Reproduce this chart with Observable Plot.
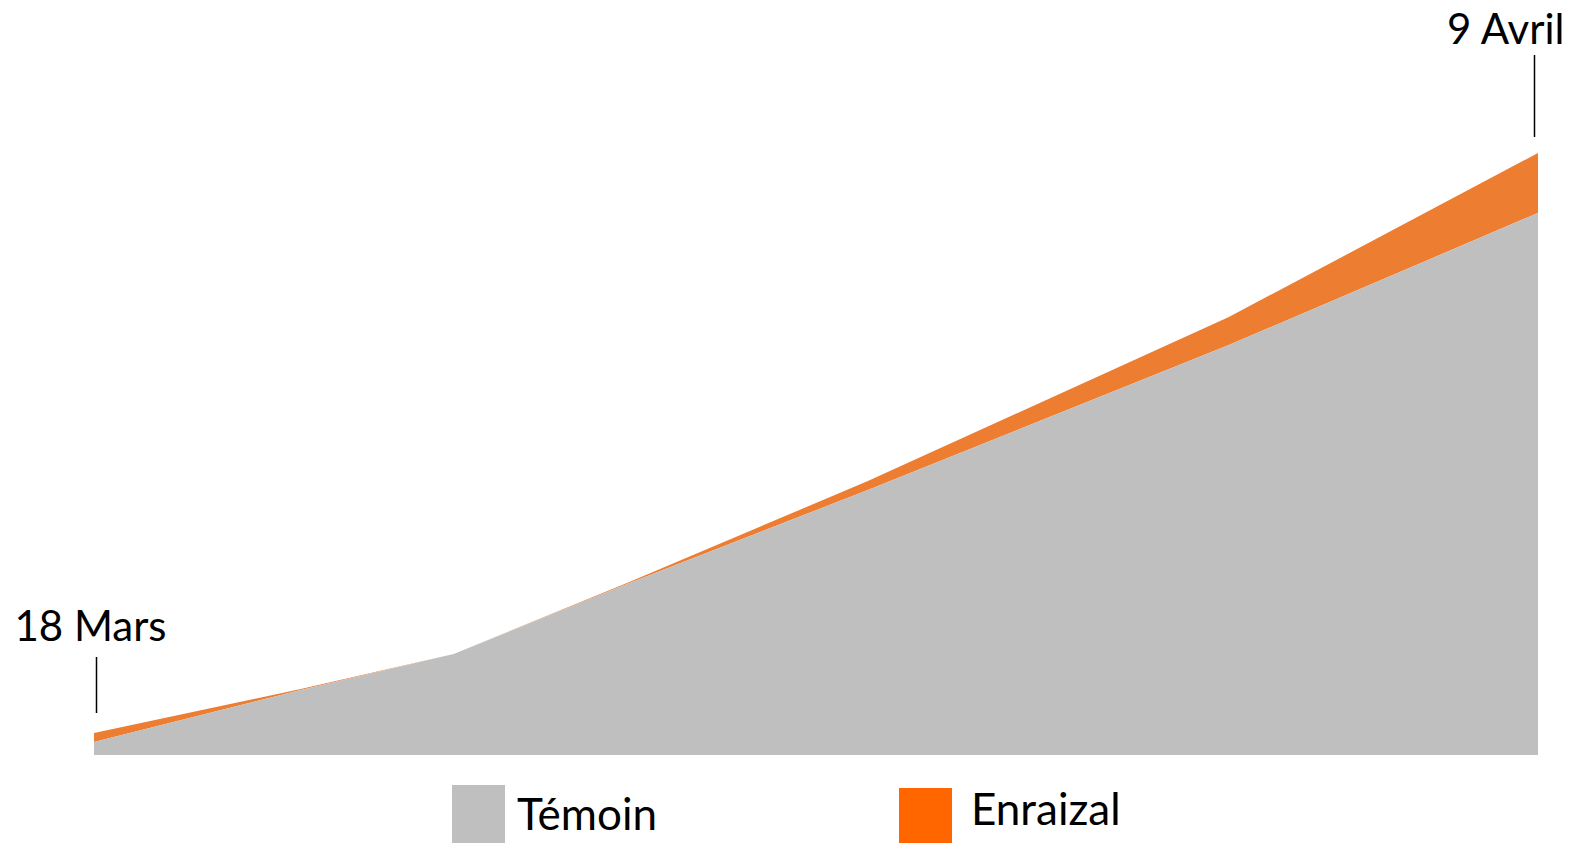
<!DOCTYPE html>
<html>
<head>
<meta charset="utf-8">
<script src="https://cdn.jsdelivr.net/npm/d3@7"></script>
<script src="https://cdn.jsdelivr.net/npm/@observablehq/plot@0.6"></script>
<style>
  html, body { margin: 0; padding: 0; background: #fff; overflow: hidden; }
  #wrap { width: 1573px; height: 843px; position: relative; font-family: Lato, "Open Sans", sans-serif; overflow: hidden; }
  #legend { position: relative; width: 1573px; height: 58px; }
  .sw { position: absolute; width: 53px; height: 58px; }
  .lbl { position: absolute; font-size: 44px; line-height: 44px; color: #000; white-space: nowrap; }
</style>
</head>
<body>
<div id="wrap"></div>
<script>
// Days since 18 March
const days = [0, 3.15, 5.48, 8.12, 11.79, 17.29, 22];
// Témoin (grey area) values
const temoin = [13, 65, 101, 171, 265, 410, 542];
// Enraizal (top of orange band) values
const enraizal = [22, 66, 101, 172, 274, 438, 602];
// Series labels and colours
const seriesNames = ["Témoin", "Enraizal"];
const seriesColors = ["#BFBFBF", "#ED7D31"];
const legendColors = ["#BFBFBF", "#FF6600"];
// Date labels
const startLabel = "18 Mars";
const endLabel = "9 Avril";

const data = days.map((d, i) => ({day: d, temoin: temoin[i], enraizal: enraizal[i]}));
const first = [data[0]];
const last = [data[data.length - 1]];

const chart = Plot.plot({
  width: 1573,
  height: 785,
  marginTop: 153,
  marginBottom: 30,
  marginLeft: 94,
  marginRight: 35,
  style: {fontFamily: "Lato, 'Open Sans', sans-serif", background: "#fff"},
  x: {domain: [0, 22], axis: null},
  y: {domain: [0, 602], axis: null},
  marks: [
    Plot.areaY(data, {x: "day", y1: "temoin", y2: "enraizal", fill: seriesColors[1], curve: "linear"}),
    Plot.areaY(data, {x: "day", y: "temoin", fill: seriesColors[0], curve: "linear"}),
    Plot.ruleX(first, {x: "day", y1: d => d.enraizal + 20, y2: d => d.enraizal + 76, stroke: "#000", strokeWidth: 1.5, dx: 2}),
    Plot.ruleX(last, {x: "day", y1: d => d.enraizal + 16, y2: d => d.enraizal + 98, stroke: "#000", strokeWidth: 1.5, dx: -4}),
    Plot.text(first, {x: "day", y: d => d.enraizal + 106, text: () => startLabel, fontSize: 42, fill: "#000", textAnchor: "middle", dx: -4}),
    Plot.text(last, {x: "day", y: d => d.enraizal + 123, text: () => endLabel, fontSize: 42, fill: "#000", textAnchor: "end", dx: 26})
  ]
});

const wrap = document.getElementById("wrap");
wrap.appendChild(chart);

const legend = document.createElement("div");
legend.id = "legend";
const items = [
  {name: seriesNames[0], color: legendColors[0], swLeft: 452, swTop: 0, lblLeft: 517, lblTop: 6},
  {name: seriesNames[1], color: legendColors[1], swLeft: 899, swTop: 3, lblLeft: 971, lblTop: 1}
];
for (const it of items) {
  const sw = document.createElement("div");
  sw.className = "sw";
  sw.style.left = it.swLeft + "px";
  sw.style.top = it.swTop + "px";
  sw.style.background = it.color;
  legend.appendChild(sw);
  const lb = document.createElement("div");
  lb.className = "lbl";
  lb.style.left = it.lblLeft + "px";
  lb.style.top = it.lblTop + "px";
  lb.textContent = it.name;
  legend.appendChild(lb);
}
wrap.appendChild(legend);
</script>
</body>
</html>
